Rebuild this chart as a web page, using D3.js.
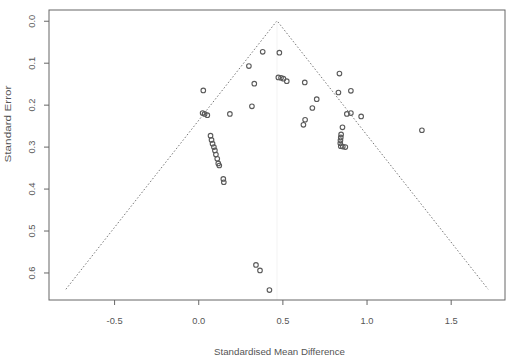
<!DOCTYPE html>
<html>
<head>
<meta charset="utf-8">
<script src="https://cdn.jsdelivr.net/npm/d3@7"></script>
<style>
  html, body { margin: 0; padding: 0; background: #fff; }
  svg { display: block; font-family: "Liberation Sans", Arial, sans-serif; }
</style>
</head>
<body>
<div id="chart"></div>
<script>
'use strict';

// study effects (standardised mean difference) and their standard errors
var smd = [
	0.030, 0.026, 0.038, 0.054, 0.188,
	0.073, 0.079, 0.085, 0.093, 0.099, 0.105, 0.113, 0.119, 0.125,
	0.149, 0.152,
	0.301, 0.383, 0.482, 0.333, 0.319,
	0.476, 0.492, 0.506, 0.526,
	0.633, 0.704, 0.678, 0.635, 0.625,
	0.839, 0.907, 0.833, 0.883, 0.907, 0.968, 0.857,
	0.849, 0.847, 0.845, 0.844, 0.847, 0.859, 0.874,
	1.329,
	0.343, 0.367, 0.423
];
var se = [
	0.166, 0.220, 0.222, 0.225, 0.222,
	0.274, 0.284, 0.293, 0.301, 0.309, 0.319, 0.329, 0.340, 0.345,
	0.377, 0.385,
	0.108, 0.074, 0.076, 0.150, 0.204,
	0.135, 0.136, 0.138, 0.144,
	0.147, 0.187, 0.208, 0.236, 0.248,
	0.126, 0.167, 0.171, 0.222, 0.220, 0.228, 0.254,
	0.271, 0.278, 0.285, 0.292, 0.299, 0.300, 0.301,
	0.261,
	0.582, 0.595, 0.642
];

var pooled = 0.468;
var seMax = 0.64;
var xTicks = [-0.5, 0.0, 0.5, 1.0, 1.5];
var yTicks = [0.0, 0.1, 0.2, 0.3, 0.4, 0.5, 0.6];
var xTitle = "Standardised Mean Difference";
var yTitle = "Standard Error";

var width = 515, height = 357;
var box = { left: 49, right: 505, top: 10, bottom: 300 };
var ink = "#555";

var svg = d3.select("#chart").append("svg")
	.attr("width", width)
	.attr("height", height);

// R style: 4% padding inside the box
var padX = (box.right - box.left) * 0.04 / 1.08;
var padY = (box.bottom - box.top) * 0.04 / 1.08;

var x = d3.scaleLinear()
	.domain([pooled - 1.96 * seMax, pooled + 1.96 * seMax])
	.range([box.left + padX, box.right - padX]);

var y = d3.scaleLinear()
	.domain([0, seMax])
	.range([box.top + padY, box.bottom - padY]);

// funnel
var funnel = [
	[pooled - 1.96 * seMax, seMax],
	[pooled, 0],
	[pooled + 1.96 * seMax, seMax]
];
var line = d3.line()
	.x(function(d) { return x(d[0]); })
	.y(function(d) { return y(d[1]); });

svg.append("path")
	.attr("d", line(funnel))
	.attr("fill", "none")
	.attr("stroke", "#666")
	.attr("stroke-width", 0.9)
	.attr("stroke-dasharray", "1.5,2");

svg.append("line")
	.attr("x1", x(pooled)).attr("x2", x(pooled))
	.attr("y1", y(0)).attr("y2", box.bottom)
	.attr("stroke", "#f0f0f0")
	.attr("stroke-width", 0.8);

// points
var idx = d3.range(smd.length);
svg.append("g").selectAll("circle")
	.data(idx)
	.enter().append("circle")
	.attr("cx", function(i) { return x(smd[i]); })
	.attr("cy", function(i) { return y(se[i]); })
	.attr("r", 2.3)
	.attr("fill", "none")
	.attr("stroke", "#5a5a5a")
	.attr("stroke-width", 1.1);

// box
svg.append("rect")
	.attr("x", box.left).attr("y", box.top)
	.attr("width", box.right - box.left)
	.attr("height", box.bottom - box.top)
	.attr("fill", "none")
	.attr("stroke", "#666")
	.attr("stroke-width", 1);

// x axis
var xAxis = svg.append("g")
	.attr("transform", "translate(0," + box.bottom + ")")
	.call(d3.axisBottom(x).tickValues(xTicks).tickFormat(d3.format(".1f"))
		.tickSize(5).tickSizeOuter(0).tickPadding(12));
xAxis.select(".domain").remove();
xAxis.selectAll("line").attr("stroke", "#666");
xAxis.selectAll("text")
	.attr("fill", ink)
	.attr("font-size", 9.3)
	.text(function(d) { return d < 0 ? "-" + d3.format(".1f")(-d) : d3.format(".1f")(d); });

// y axis
var yAxis = svg.append("g")
	.attr("transform", "translate(" + box.left + ",0)")
	.call(d3.axisLeft(y).tickValues(yTicks).tickFormat(d3.format(".1f"))
		.tickSize(5).tickSizeOuter(0));
yAxis.select(".domain").remove();
yAxis.selectAll("line").attr("stroke", "#666");
yAxis.selectAll("text")
	.attr("fill", ink)
	.attr("font-size", 9.3)
	.attr("transform", "rotate(-90)")
	.attr("x", 0)
	.attr("y", -14)
	.attr("dy", 0)
	.attr("text-anchor", "middle");

// titles
svg.append("text")
	.attr("x", 279.5)
	.attr("y", 355)
	.attr("text-anchor", "middle")
	.attr("font-size", 9.7)
	.attr("fill", ink)
	.attr("textLength", 131)
	.attr("lengthAdjust", "spacingAndGlyphs")
	.text(xTitle);

svg.append("text")
	.attr("transform", "translate(11,124) rotate(-90)")
	.attr("text-anchor", "middle")
	.attr("font-size", 9.7)
	.attr("fill", ink)
	.attr("textLength", 77)
	.attr("lengthAdjust", "spacingAndGlyphs")
	.text(yTitle);
</script>
</body>
</html>
